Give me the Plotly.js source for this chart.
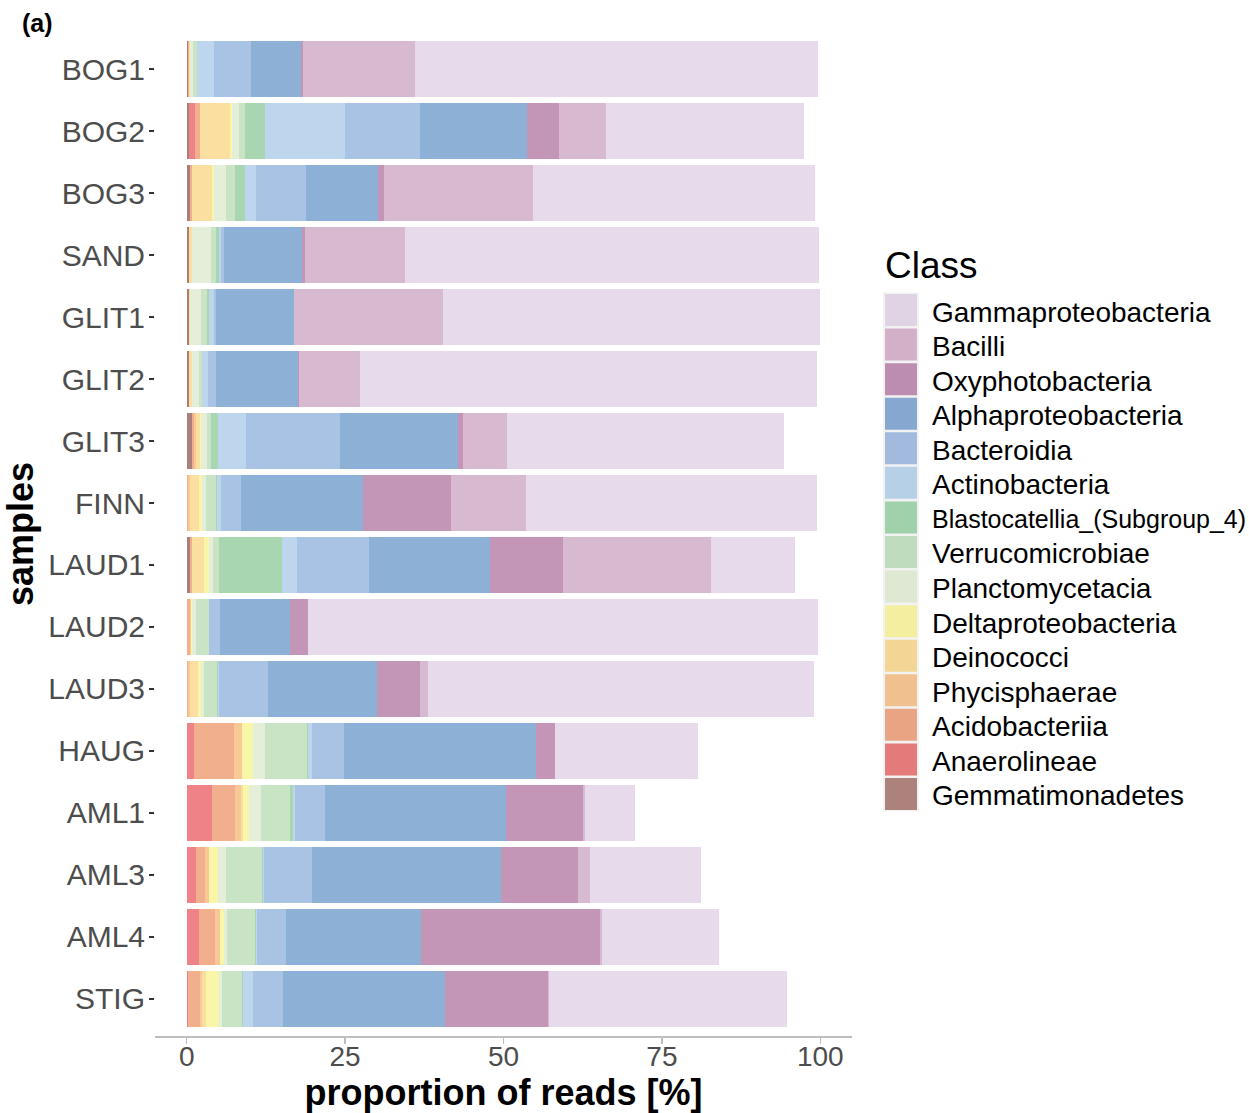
<!DOCTYPE html>
<html>
<head>
<meta charset="utf-8">
<script src="https://cdn.plot.ly/plotly-3.0.1.min.js"></script>
<style>
html,body{margin:0;padding:0;background:#fff;}
#chart{width:1249px;height:1113px;}
</style>
</head>
<body>
<div id="chart"></div>
<script>
// ---- data ----
const samples = ["BOG1","BOG2","BOG3","SAND","GLIT1","GLIT2","GLIT3","FINN","LAUD1","LAUD2","LAUD3","HAUG","AML1","AML3","AML4","STIG"];

// class names in stacking order (left to right)
const classNames = ["Gemmatimonadetes","Anaerolineae","Acidobacteriia","Phycisphaerae","Deinococci","Deltaproteobacteria","Planctomycetacia","Verrucomicrobiae","Blastocatellia_(Subgroup_4)","Actinobacteria","Bacteroidia","Alphaproteobacteria","Oxyphotobacteria","Bacilli","Gammaproteobacteria"];

const gemmatimonadetes = [0.2,0.3,0.6,0.3,0.3,0.3,0.8,0,0.5,0,0,0,0,0,0,0];
const anaerolineae     = [0,0.96,0,0,0,0,0.1,0,0,0.1,0.1,1.1,4.0,1.4,1.9,0.15];
const acidobacteriia   = [0.15,0.79,0.3,0,0,0,0.3,0.15,0.3,0.4,0.1,6.3,3.6,1.45,2.55,1.9];
const phycisphaerae    = [0,0,0,0,0,0,0.2,0.35,0,0.15,0.35,1.4,0.95,0.65,0.75,0.3];
const deinococci       = [0.15,4.75,3.1,0.5,0.3,0.5,0.65,1.4,2.0,0,1.25,0,0.3,0,0,0.65];
const deltaproteo      = [0.1,0.3,0.3,0,0,0,0.15,0.5,0.7,0.15,0.45,1.6,0.95,1.4,0.65,2.05];
const planctomycetacia = [0.4,1.1,1.9,3.0,1.6,1.1,0.95,0.6,0.6,0.65,0.5,1.9,1.9,1.3,0.45,0.45];
const verrucomicrobiae = [0.65,1.0,1.5,0.9,0.95,0.5,0.65,1.6,0.95,2.15,2.05,6.65,4.6,5.65,4.45,3.2];
const blastocatellia   = [0,3.1,1.5,0.35,0.35,0,1.1,0.15,9.95,0,0.15,0.15,0.45,0.15,0.15,0.15];
const actinobacteria   = [2.65,12.7,1.7,0.35,0.8,0.9,4.4,0.65,2.4,0,0.15,0.6,0.35,0.15,0.15,1.55];
const bacteroidia      = [5.8,11.8,7.9,0.45,0.4,1.3,14.9,3.1,11.4,1.6,7.75,5.1,4.7,7.6,4.55,4.8];
const alphaproteo      = [7.9,16.9,11.4,12.35,12.2,12.9,18.6,19.3,19.1,11.1,17.2,30.3,28.6,29.85,21.4,25.6];
const oxyphotobacteria = [0.3,5.1,0.9,0.4,0.1,0.2,0.8,13.9,11.5,2.8,6.7,3.0,12.2,12.2,28.2,16.2];
const bacilli          = [17.7,7.4,23.6,15.8,23.4,9.6,7.0,11.9,23.4,0,1.4,0,0.3,1.9,0.4,0.2];
const gammaproteo      = [63.7,31.3,44.5,65.4,59.6,72.1,43.7,45.8,13.2,80.6,60.8,22.6,7.9,17.5,18.4,37.6];

const seriesValues = [gemmatimonadetes,anaerolineae,acidobacteriia,phycisphaerae,deinococci,deltaproteo,planctomycetacia,verrucomicrobiae,blastocatellia,actinobacteria,bacteroidia,alphaproteo,oxyphotobacteria,bacilli,gammaproteo];

const xTickVals = [0,25,50,75,100];
const xTickText = ["0","25","50","75","100"];

// ---- styles ----
const barColors = ["#A98079","#EE8286","#F2AF8E","#F8C896","#FADFA0","#FAF6A8","#E4EED9","#C9E3C5","#A8D6B1","#BDD6ED","#A9C3E4","#8CB0D6","#C396B8","#D7B9D0","#E7DAEA"];
const keyColors = ["#AE827C","#E57A7B","#E9A583","#F0C08E","#F3D695","#F3EF9F","#DEE8D2","#BFDCBE","#9FD1AB","#B6D0E8","#A1BADD","#86A8D0","#BC8DB0","#D4B0C8","#E0D4E4"];

const FONT = "Liberation Sans, Arial, Helvetica, sans-serif";

const traces = classNames.map((name, i) => ({
  type: "bar",
  orientation: "h",
  name: name,
  y: samples,
  x: seriesValues[i],
  marker: {color: barColors[i], line: {width: 0}},
  hoverinfo: "name+x"
}));

// plot area in pixels
const L = 155, R = 852, T = 32, B = 1036;
const W = 1249, H = 1113;
const px2x = p => (p - L) / (R - L);
const px2y = p => (B - p) / (B - T);

// custom legend (top entry = last class)
const shapes = [];
const annotations = [];
const legendOrder = classNames.map((_, i) => classNames.length - 1 - i);
const keyTop0 = 294, keyStep = 34.57, keyH = 32;
shapes.push({type:"rect", xref:"paper", yref:"paper",
  x0: px2x(883), x1: px2x(919), y0: px2y(keyTop0 - 1.5), y1: px2y(keyTop0 + keyStep*14 + keyH + 1.5),
  fillcolor:"#F2F2F2", line:{width:0}, layer:"above"});
legendOrder.forEach((ci, row) => {
  const top = keyTop0 + row * keyStep;
  shapes.push({type:"rect", xref:"paper", yref:"paper",
    x0: px2x(885), x1: px2x(917), y0: px2y(top + keyH), y1: px2y(top),
    fillcolor: keyColors[ci], line:{width:0}, layer:"above"});
  const isLong = classNames[ci].length > 22;
  annotations.push({xref:"paper", yref:"paper", x: px2x(930), y: px2y(top + keyH/2 + 2),
    xanchor:"left", yanchor:"middle", showarrow:false, text: classNames[ci],
    font:{family: FONT, size: isLong ? 25 : 28, color:"#000000"}});
});
annotations.push({xref:"paper", yref:"paper", x: px2x(883), y: px2y(265),
  xanchor:"left", yanchor:"middle", showarrow:false, text:"Class",
  font:{family: FONT, size: 37, color:"#000000"}});
annotations.push({xref:"paper", yref:"paper", x: px2x(20), y: px2y(23),
  xanchor:"left", yanchor:"middle", showarrow:false, text:"(a)",
  font:{family: FONT, size: 25, color:"#000000", weight:"bold"}});

const layout = {
  width: W, height: H,
  margin: {l: L, r: W - R, t: T, b: H - B, pad: 0},
  paper_bgcolor: "#ffffff",
  plot_bgcolor: "#ffffff",
  barmode: "stack",
  bargap: 0.1,
  showlegend: false,
  font: {family: FONT},
  xaxis: {
    range: [-5, 105],
    tickmode: "array", tickvals: xTickVals, ticktext: xTickText,
    ticks: "outside", ticklen: 6, tickwidth: 1.5, tickcolor: "#BEBEBE",
    showline: true, linecolor: "#BEBEBE", linewidth: 2,
    showgrid: false, zeroline: false,
    ticklabelstandoff: -12,
    tickfont: {family: FONT, size: 28, color: "#4D4D4D"},
    title: {text: "proportion of reads [%]", standoff: 14,
      font: {family: FONT, size: 36, color: "#000000", weight: "bold"}}
  },
  yaxis: {
    type: "category",
    categoryorder: "array", categoryarray: samples,
    range: [15.6, -0.6],
    ticks: "outside", ticklen: 5, tickwidth: 1.5, tickcolor: "#333333",
    showline: false, showgrid: false, zeroline: false,
    ticklabelstandoff: -2,
    tickfont: {family: FONT, size: 30, color: "#4D4D4D"},
    title: {text: "samples", standoff: 4,
      font: {family: FONT, size: 36, color: "#000000", weight: "bold"}}
  },
  shapes: shapes,
  annotations: annotations
};

Plotly.newPlot("chart", traces, layout, {displayModeBar: false, staticPlot: true});
</script>
</body>
</html>
